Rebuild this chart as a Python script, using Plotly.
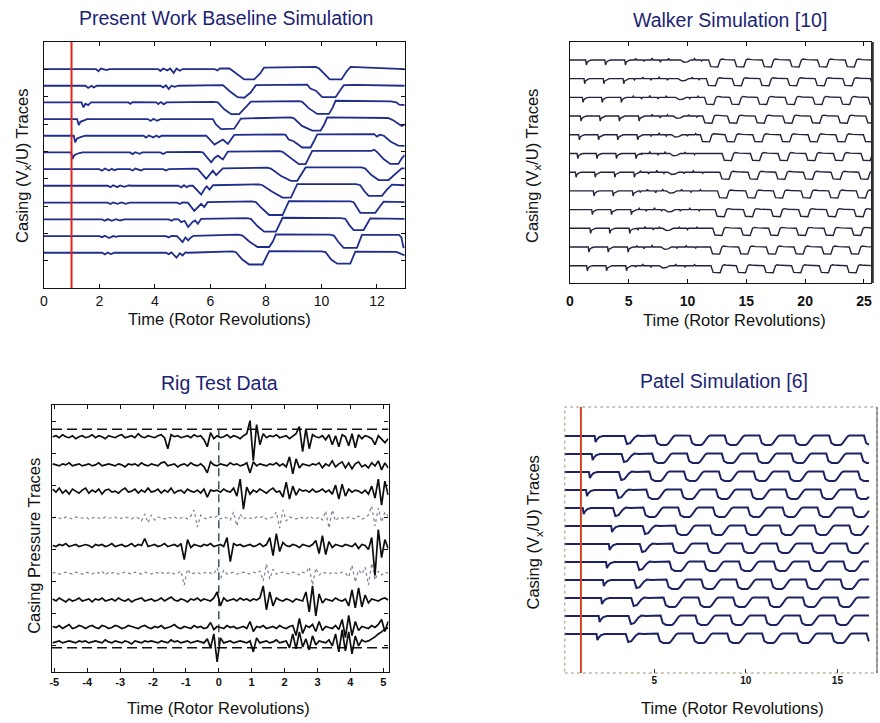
import numpy as np
import plotly.graph_objects as go

FONT = "Liberation Sans, Arial, Helvetica, sans-serif"
NAVY = "#1b2473"

# ---------------- Present Work Baseline Simulation ----------------
BASE_STALL_TIME = 1.0
BASE_BASELINES = [8.01, 7.40, 6.79, 6.18, 5.57, 4.96, 4.35, 3.74, 3.12, 2.51, 1.90, 1.29]
# (time, offset from baseline) vertices of each casing probe trace
BASE_TRACES = [
    [(0, 0), (1.88, 0), (1.97, -0.08), (2.06, 0.02), (2.27, -0.04), (2.36, 0), (4.12, 0), (4.2, -0.07), (4.3, 0.02),
     (4.45, -0.05), (4.55, 0.02), (4.68, -0.14), (4.78, 0.02), (4.9, -0.06), (5.0, 0), (6.15, 0.0), (6.25, -0.05),
     (6.35, 0.02), (6.69, 0.02), (6.9, -0.15), (7.22, -0.38), (7.58, -0.38), (7.8, -0.15), (7.93, 0.05), (8.3, 0.06),
     (9.8, 0.08), (9.92, 0.02), (10.1, -0.18), (10.3, -0.38), (10.72, -0.38), (10.9, -0.1), (11.05, 0.08),
     (11.6, 0.06), (13, 0.0)],
    [(0, 0), (1.5, 0), (1.6, -0.08), (1.72, 0), (1.8, -0.06), (1.92, 0), (4.2, 0), (4.3, -0.06), (4.4, 0.02),
     (4.5, -0.12), (4.6, 0.0), (4.72, -0.04), (4.85, 0), (6.0, 0.02), (6.45, 0.02), (6.7, -0.2), (6.98, -0.42),
     (7.22, -0.44), (7.45, -0.25), (7.64, 0.02), (9.3, 0.06), (9.49, 0.04), (9.6, -0.1), (9.8, -0.18), (10.03, -0.42),
     (10.51, -0.42), (10.65, -0.2), (10.81, 0.02), (11.2, 0.03), (13, 0.0)],
    [(0, 0), (1.36, 0), (1.43, -0.18), (1.5, -0.05), (1.6, -0.1), (1.7, 0), (3.05, 0), (3.12, -0.05), (3.2, 0.01),
     (4.05, 0), (4.12, -0.06), (4.22, 0.01), (4.32, -0.07), (4.42, 0), (6.1, 0.02), (6.27, 0.0), (6.5, -0.25),
     (6.75, -0.43), (7.04, -0.43), (7.25, -0.2), (7.46, 0.03), (9.2, 0.05), (9.31, 0.02), (9.55, -0.22),
     (9.85, -0.42), (10.27, -0.42), (10.4, -0.2), (10.51, 0.06), (11.5, 0.05), (12.5, 0.04), (12.7, 0.0),
     (12.8, -0.08), (13, -0.1)],
    [(0, 0), (1.2, 0), (1.26, -0.22), (1.32, -0.1), (1.45, -0.05), (1.55, 0), (3.75, 0), (3.85, -0.07), (3.95, 0.01),
     (4.08, -0.06), (4.2, 0), (5.9, 0.02), (6.09, 0), (6.2, -0.2), (6.39, -0.37), (6.86, -0.35), (7.0, -0.15),
     (7.1, 0.02), (8.9, 0.06), (9.01, 0.03), (9.3, -0.25), (9.67, -0.42), (9.97, -0.42), (10.1, -0.2),
     (10.21, 0.06), (11.5, 0.06), (12.4, 0.04), (12.6, -0.05), (12.89, -0.25), (13, -0.2)],
    [(0, 0), (1.08, 0), (1.13, -0.24), (1.2, -0.1), (1.35, -0.04), (1.5, 0), (3.6, 0), (3.68, -0.07), (3.78, 0.01),
     (3.95, -0.06), (4.05, 0.01), (4.15, -0.05), (4.25, 0), (5.7, 0.02), (5.85, 0.0), (6.15, -0.32), (6.3, -0.22),
     (6.45, -0.14), (6.63, -0.3), (6.86, 0.03), (8.6, 0.05), (8.71, 0.03), (8.82, -0.14), (9.0, -0.2),
     (9.31, -0.43), (9.61, -0.43), (9.73, -0.2), (9.85, 0.05), (11.9, 0.06), (12.0, -0.03), (12.1, 0.04),
     (12.25, 0.0), (12.5, -0.22), (12.77, -0.36), (13, -0.37)],
    [(0, 0), (0.98, 0), (1.04, -0.24), (1.1, -0.1), (1.25, -0.03), (1.4, 0), (3.1, 0), (3.2, -0.06), (3.3, 0.01),
     (3.45, -0.05), (3.55, 0), (4.2, 0), (4.3, -0.06), (4.42, 0.01), (5.6, 0.02), (5.73, 0.0), (6.03, -0.36),
     (6.15, -0.2), (6.27, -0.12), (6.45, -0.26), (6.63, 0.03), (8.5, 0.05), (8.6, 0.02), (8.9, -0.22),
     (9.19, -0.43), (9.43, -0.43), (9.55, -0.2), (9.67, 0.06), (11.8, 0.06), (11.9, 0.1), (12.0, 0.02),
     (12.25, -0.25), (12.48, -0.42), (12.77, -0.42), (12.89, -0.22), (13, -0.1)],
    [(0, 0), (2.0, 0), (2.1, -0.06), (2.2, 0.02), (2.35, -0.05), (2.45, 0.01), (2.55, -0.04), (2.65, 0), (3.1, 0),
     (3.2, -0.05), (3.3, 0.02), (3.5, -0.05), (3.6, 0), (4.3, 0), (4.4, -0.05), (4.5, 0), (5.45, 0.02), (5.55, 0.0),
     (5.85, -0.36), (5.97, -0.2), (6.09, -0.06), (6.21, -0.22), (6.45, 0.03), (8.05, 0.05), (8.18, 0.02),
     (8.55, -0.25), (8.9, -0.43), (9.13, -0.43), (9.28, -0.2), (9.43, 0.06), (11.45, 0.06), (11.58, 0.02),
     (11.8, -0.22), (12.06, -0.4), (12.42, -0.4), (12.65, -0.2), (12.89, 0.03), (13, 0.03)],
    [(0, 0), (2.3, 0), (2.4, -0.05), (2.5, 0.02), (2.65, -0.05), (2.75, 0.01), (2.9, -0.04), (3.05, 0.01), (3.2, 0),
     (4.85, 0), (4.95, -0.06), (5.05, 0.02), (5.15, -0.05), (5.25, 0), (5.37, 0.0), (5.67, -0.32), (5.8, -0.1),
     (5.87, -0.02), (5.97, -0.14), (6.1, 0.02), (7.75, 0.05), (7.88, 0.02), (8.2, -0.2), (8.6, -0.43),
     (8.9, -0.43), (9.02, -0.2), (9.13, 0.06), (11.25, 0.06), (11.4, 0.02), (11.55, -0.2), (11.7, -0.37),
     (12.18, -0.37), (12.35, -0.15), (12.54, 0.04), (13, 0.02)],
    [(0, 0), (2.3, 0), (2.4, -0.05), (2.5, 0.01), (2.65, -0.04), (2.8, 0.01), (2.95, -0.04), (3.1, 0), (4.8, 0),
     (4.9, -0.05), (5.0, 0.01), (5.19, 0.0), (5.42, -0.3), (5.55, -0.15), (5.67, -0.04), (5.78, -0.16), (5.9, 0.02),
     (7.5, 0.05), (7.64, 0.02), (7.8, -0.15), (8.12, -0.45), (8.6, -0.45), (8.72, -0.2), (8.83, 0.06),
     (11.05, 0.05), (11.16, 0.02), (11.4, -0.37), (11.94, -0.37), (12.1, -0.15), (12.24, 0.04), (13, 0.02)],
    [(0, 0), (2.1, 0), (2.2, -0.05), (2.3, 0.01), (2.45, -0.05), (2.6, 0.01), (2.75, -0.04), (2.9, 0), (4.5, 0),
     (4.6, -0.05), (4.7, 0.01), (4.85, 0), (4.95, -0.1), (5.07, -0.05), (5.2, -0.28), (5.35, -0.1), (5.45, -0.04),
     (5.55, -0.16), (5.67, 0.02), (7.3, 0.05), (7.46, 0.02), (7.7, -0.25), (7.94, -0.45), (8.36, -0.45),
     (8.48, -0.2), (8.6, 0.06), (10.7, 0.05), (10.86, 0.02), (11.0, -0.2), (11.16, -0.39), (11.52, -0.39),
     (11.65, -0.15), (11.76, 0.04), (13, 0.02)],
    [(0, 0), (2.0, 0), (2.1, -0.04), (2.2, 0.01), (2.35, -0.07), (2.5, 0.0), (2.6, -0.03), (2.7, 0), (4.4, 0),
     (4.5, -0.05), (4.6, 0.01), (4.8, 0), (5.0, -0.22), (5.1, -0.05), (5.2, -0.16), (5.3, -0.05), (5.4, 0.01),
     (7.0, 0.05), (7.16, 0.02), (7.4, -0.2), (7.7, -0.4), (8.12, -0.4), (8.25, -0.2), (8.36, 0.06), (10.3, 0.05),
     (10.45, 0.02), (10.6, -0.2), (10.8, -0.43), (11.28, -0.43), (11.38, -0.2), (11.46, 0.04), (12.8, 0.04),
     (12.88, -0.05), (12.95, -0.4), (13, -0.42)],
    [(0, 0), (2.1, 0), (2.2, -0.06), (2.3, 0.01), (2.42, -0.05), (2.55, 0), (4.4, 0), (4.5, -0.05), (4.6, 0.01),
     (4.78, -0.18), (4.9, -0.02), (5.0, -0.1), (5.1, 0.01), (5.2, 0), (6.8, 0.05), (6.92, 0.02), (7.15, -0.25),
     (7.4, -0.43), (7.88, -0.43), (8.0, -0.2), (8.12, 0.06), (10.0, 0.05), (10.15, 0.02), (10.35, -0.25),
     (10.57, -0.4), (11.04, -0.4), (11.13, -0.2), (11.22, 0.04), (12.7, 0.03), (12.85, -0.03), (13, -0.1)],
]

# ---------------- Walker Simulation [10] ----------------
WALKER_LEVELS = [12, 11, 10, 9, 8, 7, 6, 5, 4, 3, 2, 1]
WALKER_SPIKES = [
    [1.41, 3.04, 4.73], [1.27, 2.90, 4.59], [1.13, 2.76, 4.39], [0.96, 2.59, 4.22, 5.90],
    [0.82, 2.45, 4.08, 5.77], [0.68, 2.31, 3.97, 5.63], [0.54, 2.17, 3.83, 5.49], [2.06, 3.69, 5.38],
    [1.92, 3.55, 5.24], [1.77, 3.41, 5.10], [1.63, 3.27, 4.96], [1.49, 3.13, 4.82],
]
WALKER_SAGS = [9.4, 9.2, 9.0, 8.8, 8.65, 8.5, 8.35, 8.2, 8.05, 7.9, 7.75, 7.6]
WALKER_RIPPLES = [
    [(5.6, 0.08), (6.3, -0.08), (7.0, 0.1), (7.7, -0.12), (8.4, 0.08), (10.6, 0.07), (11.2, -0.06)],
    [(5.5, -0.07), (6.2, 0.09), (6.9, -0.08), (7.6, 0.1), (8.3, -0.08), (10.4, 0.08), (11.0, -0.05)],
    [(5.4, 0.07), (6.1, -0.09), (6.8, 0.1), (7.5, -0.08), (8.2, 0.08), (10.2, -0.07), (10.9, 0.06)],
    [(6.3, -0.08), (7.0, 0.09), (7.7, -0.1), (8.3, 0.07), (10.1, 0.08), (10.8, -0.06)],
    [(6.2, 0.08), (6.9, -0.09), (7.6, 0.1), (8.2, -0.07), (10.0, -0.08), (10.7, 0.07)],
    [(6.1, -0.07), (6.8, 0.1), (7.5, -0.09), (8.1, 0.07), (9.8, 0.08), (10.6, -0.07)],
    [(6.0, 0.08), (6.7, -0.09), (7.4, 0.1), (8.0, -0.07), (9.7, -0.08), (10.5, 0.07), (11.3, -0.06)],
    [(6.0, -0.08), (6.6, 0.09), (7.3, -0.1), (7.9, 0.07), (9.5, 0.08), (10.3, -0.07), (11.1, 0.06)],
    [(5.9, 0.07), (6.5, -0.09), (7.2, 0.1), (7.8, -0.06), (9.4, -0.08), (10.2, 0.07), (11.0, -0.06)],
    [(5.8, -0.07), (6.4, 0.1), (7.1, -0.09), (7.6, 0.06), (9.3, 0.08), (10.0, -0.07), (10.8, 0.06)],
    [(5.7, 0.08), (6.3, -0.09), (7.0, 0.1), (9.1, -0.08), (9.9, 0.07), (10.7, -0.06)],
    [(5.6, -0.08), (6.2, 0.09), (6.9, -0.1), (9.0, 0.08), (9.8, -0.07), (10.6, 0.06)],
]
WALKER_CELLS = [
    [11.8, 14.0, 16.35, 18.7, 21.05, 23.4, 25.75],
    [11.6, 13.8, 16.15, 18.5, 20.85, 23.2, 25.55],
    [11.45, 13.6, 15.95, 18.3, 20.65, 23.0, 25.35],
    [11.3, 13.4, 15.75, 18.1, 20.45, 22.8, 25.15],
    [11.1, 13.2, 15.55, 17.9, 20.25, 22.6, 24.95],
    [12.95, 15.35, 17.7, 20.05, 22.4, 24.75],
    [12.75, 15.15, 17.5, 19.85, 22.2, 24.55],
    [12.55, 14.95, 17.3, 19.65, 22.0, 24.35],
    [12.35, 14.75, 17.1, 19.45, 21.8, 24.15],
    [12.15, 14.55, 16.9, 19.25, 21.6, 23.95],
    [11.95, 14.35, 16.7, 19.05, 21.4, 23.75],
    [12.0, 14.15, 16.5, 18.85, 21.2, 23.55],
]
WALKER_END = 26.0

# ---------------- Patel Simulation [6] ----------------
PATEL_STALL_TIME = 1.0
PATEL_LEVELS = [12, 11, 10, 9, 8, 7, 6, 5, 4, 3, 2, 1]
PATEL_SPIKES = [1.80, 1.64, 1.49, 1.33, 1.15, 2.70, 2.57, 2.42, 2.25, 2.15, 2.02, 1.90]
PATEL_FIRST_DIPS = [3.43, 3.27, 3.12, 2.96, 2.80, 4.42, 4.26, 4.10, 3.95, 3.80, 3.65, 3.50]
PATEL_CELLS = [
    [5.05, 6.95, 8.85, 10.75, 12.65, 14.55, 16.45],
    [4.89, 6.79, 8.69, 10.59, 12.49, 14.39, 16.29],
    [4.73, 6.63, 8.53, 10.43, 12.33, 14.23, 16.13],
    [4.57, 6.47, 8.37, 10.27, 12.17, 14.07, 15.97],
    [4.41, 6.31, 8.21, 10.11, 12.01, 13.91, 15.81],
    [6.15, 8.05, 9.95, 11.85, 13.75, 15.65],
    [5.99, 7.89, 9.79, 11.69, 13.59, 15.49],
    [5.83, 7.73, 9.63, 11.53, 13.43, 15.33],
    [5.67, 7.57, 9.47, 11.37, 13.27, 15.17],
    [5.51, 7.41, 9.31, 11.21, 13.11, 15.01],
    [5.35, 7.25, 9.15, 11.05, 12.95, 14.85, 16.75],
    [5.19, 7.09, 8.99, 10.89, 12.79, 14.69, 16.59],
]
PATEL_START, PATEL_END = 0.12, 16.72

# ---------------- Rig Test Data ----------------
RIG_T0, RIG_DT = -5.05, 0.1
RIG_PX_PER_UNIT = 32.0
RIG_BASELINES = [6.53, 5.65, 4.83, 3.99, 3.13, 2.27, 1.43, 0.57, 0.12]
RIG_FAINT = [3, 5]
RIG_LIMITS = [6.76, -0.06]
RIG_TICKS = [-5, -4, -3, -2, -1, 0, 1, 2, 3, 4, 5]
RIG_TRACES = [
    [0, 1, -1, 2, 0, -1, 1, -2, 0, 1, -1, 0, 2, -1, 1, 0, -2, 1, 0, -1, 1, 2, -1, 0, 1, -1, 3, 0, -1, 1,
     0, -1, 1, 2, -1, -12, 2, 0, 1, -1, 0, 1, -1, 2, 0, 1, -3, -10, 4, -2, 1, -1, 0, 2, -1, 1, 0, -2, 1, 3,
     16, -24, 12, -8, 3, -1, 1, 0, 2, -1, 0, 1, -2, 1, 3, 10, -15, 8, -12, 2, 0, -1, 1, -3, 2, -8, 1, -10, 2, 0,
     -9, 3, -11, 2, -2, 1, 0, -2, -8, 1, -3, -6, -2],
    [1, 0, -1, 1, 0, 2, -1, 0, 1, -1, 0, 1, -1, 0, 2, -1, 0, 1, 0, -1, 1, 0, -2, 1, 0, 1, -1, 2, 0, -1,
     1, 0, -1, 2, 3, -1, 0, 1, -2, 0, 1, -1, 2, 0, -1, 1, -2, -8, 3, 0, -1, 1, 0, -1, 2, 0, 1, -1, 0, 2,
     -8, 3, -1, 1, 0, -1, 1, 0, 2, -1, 1, -2, 8, -9, 6, -3, 1, 0, -1, 1, 0, 2, -3, 1, -1, 4, -2, 1, 3, -3,
     2, -4, 1, 3, -2, 0, -3, 2, -1, 4, -5, 2, -3],
    [2, -1, 3, -2, 1, -3, 2, 0, -2, 1, 3, -2, 1, -1, 2, -3, 1, 2, -1, 0, -2, 1, 3, -1, 0, 2, -2, 1, -1, 3,
     -1, 0, 2, -2, 1, -1, 3, -2, 0, 1, -2, 2, 0, -1, 1, -2, 2, -6, 1, 0, 1, -1, 2, 0, -1, 3, -5, 12, -18, 4,
     -3, 1, -1, 2, 0, -2, 1, 3, -1, 0, -6, 9, -8, 5, -4, 2, 0, 1, -1, 2, -1, 0, 2, -1, 1, -3, 6, -8, 7, -5,
     2, -1, 1, 0, -2, 1, -3, 5, -7, 12, -14, 10, -4],
    [0, 1, 0, -1, 1, 0, -1, 1, 0, 0, 1, -1, 0, 1, 0, -1, 1, 0, 0, 1, -1, 0, 1, 0, -1, 1, 0, -3, 4, -5,
     3, -2, 1, 0, -1, 1, 0, 1, -1, 0, 1, -1, 2, 8, -9, 3, 0, -1, 1, 0, 2, -1, 1, 0, -2, 6, -8, 4, -1, 1,
     0, -1, 1, 0, 2, -1, 0, 1, 6, -10, 8, -3, 1, 0, -1, 1, 0, -1, 2, 0, -1, 1, -2, 7, -10, 8, -3, 1, 0, -1,
     1, 0, -1, 2, -1, 0, 3, 12, -8, 10, -4, 6, 2],
    [0, -1, 1, 0, 2, -1, 0, 1, -1, 0, 1, 0, -2, 1, 0, 1, -1, 0, 2, -1, 0, 1, -1, 0, 2, -1, 1, 0, 7, -1,
     0, 1, -1, 0, 2, -1, 0, 1, -1, 2, -14, 6, -2, 1, 0, -1, 1, 0, 2, -1, 0, 1, -1, 8, -16, 2, 0, 1, -1, 0,
     1, -1, 0, 2, -1, 1, 8, -10, 12, -6, 3, 0, -1, 1, 0, -2, 1, 0, -1, 1, 5, -8, 10, -9, 4, -2, 1, 0, -1, 1,
     0, -1, 2, -3, 1, 0, -4, 8, -30, 16, -12, 6, -3],
    [0, 1, -1, 0, 1, 0, -1, 1, 0, -1, 1, 0, -1, 1, 0, 2, -2, 1, 0, 1, -1, 0, 1, 0, -1, 1, 0, -1, 1, 0,
     -1, 1, 0, 1, -1, 0, 1, -1, 0, 2, -12, 4, -1, 0, 1, -1, 0, 1, 0, -1, 5, -6, 3, -1, 0, 1, -1, 0, 1, 0,
     -1, 1, 0, 2, -8, 9, -6, 4, -1, 0, 1, 0, -1, 1, 0, -2, 1, 0, 6, -12, 5, -2, 1, 0, -1, 1, 0, -1, 1, 0,
     -4, 8, -9, 3, -1, 6, -12, 10, -7, 2, -2, 1, 0],
    [1, -1, 2, 0, -2, 1, -1, 0, 2, -1, 0, 1, -2, 1, 0, 2, -1, 0, 1, -1, 2, 0, -1, 1, -2, 0, 1, 2, -1, 0,
     1, -1, 0, 2, -1, 1, 3, 0, -1, 1, 0, -2, 1, 0, 2, -1, 1, 0, -1, 2, 8, -6, 2, -1, 0, 1, -1, 2, 0, 1,
     -1, 1, 0, 2, 14, -10, 8, -6, 2, 0, -1, 1, 0, -2, 1, 0, -1, 8, -12, 14, -16, 6, -3, 1, 0, -1, 2, 0, -1, 1,
     -6, 10, -8, 12, -7, 5, -3, 1, 0, -1, 1, 2, 0],
    [1, 0, 2, -1, 1, 3, -1, 0, 2, 1, -1, 1, 2, 0, -1, 2, 1, -1, 0, 2, 1, -1, 0, 2, 1, 0, -1, 1, 2, 0,
     -1, 1, 0, 2, -1, 0, 1, 3, 0, -1, 1, 0, -1, 2, 0, 1, -1, 0, 5, -2, 1, 0, -1, 2, 0, 1, -1, 0, 1, -1,
     6, -4, 1, 0, 2, -1, 0, 1, -1, 2, 0, -1, 1, 2, -8, 9, -6, 2, 0, 3, -4, 6, -3, 1, 0, -1, 2, -2, 8, -10,
     12, -8, 6, -3, 1, 0, -1, 2, 0, 3, 8, -4, 6],
    [-1, 0, 1, -1, 0, 1, 0, -1, 1, 0, 1, -1, 0, 1, 0, -1, 2, 0, -1, 1, 0, -1, 1, 0, -2, 1, 0, -1, 1, 0,
     1, 0, -1, 1, 0, -1, 2, 0, 1, -1, 0, 1, -1, 0, 1, 0, -1, 3, -6, 8, -20, 4, -1, 0, 1, -1, 0, 1, 0, -1,
     1, -10, 4, -1, 0, 1, -1, 0, 2, -1, 0, 1, -6, 8, -7, 10, -5, 3, -8, 6, -3, 1, 0, -1, 2, -4, 8, -10, 12, -9,
     10, -12, 6, -4, 2, 0, 1, 3, 5, 8, 10, 13, 14],
]

# ---------------- shapes of recurring stall events ----------------
W_SPIKE = [(-0.06, 0.0), (0.0, -0.27), (0.07, -0.12), (0.25, -0.04), (0.45, 0.0)]
W_CELL = [(0.0, 0.0), (0.18, -0.36), (0.78, -0.38), (0.98, 0.0), (1.12, 0.05), (1.45, 0.02)]
W_SAG = [(0.0, 0.0), (0.3, -0.12), (0.6, -0.1), (0.9, 0.0)]
P_SPIKE = [(-0.05, 0.0), (0.0, -0.34), (0.07, -0.2), (0.2, -0.06), (0.4, 0.0)]
P_FIRST = [(-0.05, 0.0), (0.08, -0.45), (0.25, -0.4), (0.5, -0.08), (0.65, 0.02), (0.9, 0.0)]
P_CELL = [(0.0, 0.02), (0.12, -0.4), (0.3, -0.5), (0.62, -0.5), (0.72, -0.42), (1.0, -0.03), (1.1, 0.03),
          (1.7, 0.02)]


def assemble(t_start, t_end, events):
    """Join (time, pattern) events into one polyline, offsets relative to 0."""
    pts = [(t_start, 0.0)]
    for t, pattern in sorted(events, key=lambda e: e[0]):
        for dt, dy in pattern:
            x = t + dt
            if x > pts[-1][0]:
                pts.append((x, dy))
    xs = np.array([p[0] for p in pts])
    ys = np.array([p[1] for p in pts])
    end_val = np.interp(t_end, xs, ys) if xs[-1] > t_end else 0.0
    keep = xs < t_end
    xs = np.append(xs[keep], t_end)
    ys = np.append(ys[keep], end_val)
    return xs, ys


fig = go.Figure()

# --- baseline simulation
for base, verts in zip(BASE_BASELINES, BASE_TRACES):
    fig.add_trace(go.Scatter(
        x=[v[0] for v in verts], y=[base + v[1] for v in verts], mode="lines",
        line=dict(color="#1f2d8c", width=1.8), xaxis="x", yaxis="y", hoverinfo="skip"))
fig.add_trace(go.Scatter(x=[BASE_STALL_TIME, BASE_STALL_TIME], y=[0, 9], mode="lines",
                         line=dict(color="#e3241b", width=2), xaxis="x", yaxis="y", hoverinfo="skip"))

# --- Walker simulation
for i, lvl in enumerate(WALKER_LEVELS):
    ev = [(t, W_SPIKE) for t in WALKER_SPIKES[i]]
    ev += [(t, [(-0.07, 0.0), (0.0, a), (0.07, 0.0)]) for t, a in WALKER_RIPPLES[i]]
    ev += [(WALKER_SAGS[i], W_SAG)]
    ev += [(t, W_CELL) for t in WALKER_CELLS[i]]
    xs, ys = assemble(0.0, WALKER_END, ev)
    fig.add_trace(go.Scatter(x=xs, y=lvl + ys, mode="lines", line=dict(color="#23233d", width=1.4),
                             xaxis="x2", yaxis="y2", hoverinfo="skip"))

# --- rig test data
for yv in RIG_LIMITS:
    fig.add_trace(go.Scatter(x=[-5.07, 5.16], y=[yv, yv], mode="lines",
                             line=dict(color="#111111", width=1.5, dash="10px,5px"),
                             xaxis="x3", yaxis="y3", hoverinfo="skip"))
fig.add_trace(go.Scatter(x=[0, 0], y=RIG_LIMITS, mode="lines",
                         line=dict(color="#2e4a50", width=1.4, dash="8px,5px"),
                         xaxis="x3", yaxis="y3", hoverinfo="skip"))
for j, (base, vals) in enumerate(zip(RIG_BASELINES, RIG_TRACES)):
    vals = np.array(vals, dtype=float) / RIG_PX_PER_UNIT
    t = RIG_T0 + RIG_DT * np.arange(len(vals))
    if j in RIG_FAINT:
        style = dict(color="#7d8199", width=1.2, dash="dot")
    else:
        style = dict(color="#0d0d0d", width=1.7)
    fig.add_trace(go.Scatter(x=t, y=base + vals, mode="lines", line=style,
                             xaxis="x3", yaxis="y3", hoverinfo="skip"))

# --- Patel simulation
for i, lvl in enumerate(PATEL_LEVELS):
    ev = [(PATEL_SPIKES[i], P_SPIKE), (PATEL_FIRST_DIPS[i], P_FIRST)]
    ev += [(t, P_CELL) for t in PATEL_CELLS[i]]
    xs, ys = assemble(PATEL_START, PATEL_END, ev)
    fig.add_trace(go.Scatter(x=xs, y=lvl + ys, mode="lines", line=dict(color="#1c2262", width=2),
                             xaxis="x4", yaxis="y4", hoverinfo="skip"))
fig.add_trace(go.Scatter(x=[PATEL_STALL_TIME, PATEL_STALL_TIME], y=[-1.17, 13.61], mode="lines",
                         line=dict(color="#d8431f", width=2), xaxis="x4", yaxis="y4", hoverinfo="skip"))

W, H = 880, 723


def px(x):
    return x / W


def py(y):
    return 1 - y / H


box = dict(showline=True, linecolor="#111111", linewidth=1.2, mirror="ticks", ticks="inside",
           ticklen=4, tickcolor="#111111", showgrid=False, zeroline=False)

fig.update_layout(
    width=W, height=H, margin=dict(l=0, r=0, t=0, b=0),
    paper_bgcolor="white", plot_bgcolor="white", showlegend=False,
    font=dict(family=FONT, color="#111111"),
    xaxis=dict(domain=[px(40), px(403)], range=[0, 13], tickvals=list(range(0, 13, 2)),
               tickfont=dict(size=14), anchor="y", **box),
    yaxis=dict(domain=[py(288), py(42)], range=[0, 9], dtick=1, showticklabels=False, anchor="x", **box),
    xaxis2=dict(domain=[px(569), px(872)], range=[0, 25.6], tickvals=[0, 5, 10, 15, 20, 25],
                tickfont=dict(size=14, weight="bold"), ticklabelstandoff=5, anchor="y2", **box),
    yaxis2=dict(domain=[py(283), py(42)], range=[0.075, 12.96], showticklabels=False, ticks="",
                showline=True, linecolor="#111111", linewidth=1.2, mirror=True, showgrid=False,
                zeroline=False, anchor="x2"),
    xaxis3=dict(domain=[px(48.3), px(386.7)], range=[-5.07, 5.16], tickvals=RIG_TICKS,
                ticktext=[str(v) for v in RIG_TICKS],
                tickfont=dict(size=11, weight="bold"), anchor="y3", **box),
    yaxis3=dict(domain=[py(672), py(405)], range=[-0.82, 7.52], dtick=1, showticklabels=False,
                anchor="x3", **box),
    xaxis4=dict(domain=[px(564), px(878)], range=[0.12, 17.16], tickvals=[5, 10, 15],
                tickfont=dict(size=10, weight="bold"), ticks="inside", ticklen=4, tickcolor="#333333",
                showline=False, showgrid=False, zeroline=False, anchor="y4"),
    yaxis4=dict(domain=[py(673), py(407)], range=[-1.17, 13.61], showticklabels=False, ticks="",
                showline=False, showgrid=False, zeroline=False, anchor="x4"),
)

# dotted frame of the Patel panel
fig.add_shape(type="rect", xref="paper", yref="paper", x0=px(564), x1=px(878), y0=py(673), y1=py(407),
              line=dict(color="#9c9478", width=1, dash="dot"))
fig.add_shape(type="line", xref="paper", yref="paper", x0=px(878), x1=px(878), y0=py(673), y1=py(407),
              line=dict(color="#555555", width=1))
# heavier right edge of the Walker frame
fig.add_shape(type="line", xref="paper", yref="paper", x0=px(873.5), x1=px(873.5), y0=py(283), y1=py(42),
              line=dict(color="#333333", width=2.5))

titles = [
    ("Present Work Baseline Simulation", 223.7, 18),
    ("Walker Simulation [10]", 730, 20),
    ("Rig Test Data", 216.7, 382.7),
    ("Patel Simulation [6]", 724, 380.7),
]
for text, x, y in titles:
    fig.add_annotation(text=text, x=px(x), y=py(y), xref="paper", yref="paper", showarrow=False,
                       xanchor="center", yanchor="middle", font=dict(size=19.5, color=NAVY, family=FONT))

xtitles = [(217, 319), (735, 320), (216, 708), (733, 708)]
for x, y in xtitles:
    fig.add_annotation(text="Time (Rotor Revolutions)", x=px(x), y=py(y), xref="paper", yref="paper",
                       showarrow=False, xanchor="center", yanchor="middle",
                       font=dict(size=16.5, color="#111111", family=FONT))

ytitles = [
    ("Casing (V<sub>x</sub>/U) Traces", 19, 166),
    ("Casing (V<sub>x</sub>/U) Traces", 532, 166),
    ("Casing Pressure Traces", 30, 546),
    ("Casing (V<sub>x</sub>/U) Traces", 533, 532.5),
]
for text, x, y in ytitles:
    fig.add_annotation(text=text, x=px(x), y=py(y), xref="paper", yref="paper", showarrow=False,
                       textangle=-90, xanchor="center", yanchor="middle",
                       font=dict(size=16.5, color="#111111", family=FONT))

fig.write_html("out.html")
